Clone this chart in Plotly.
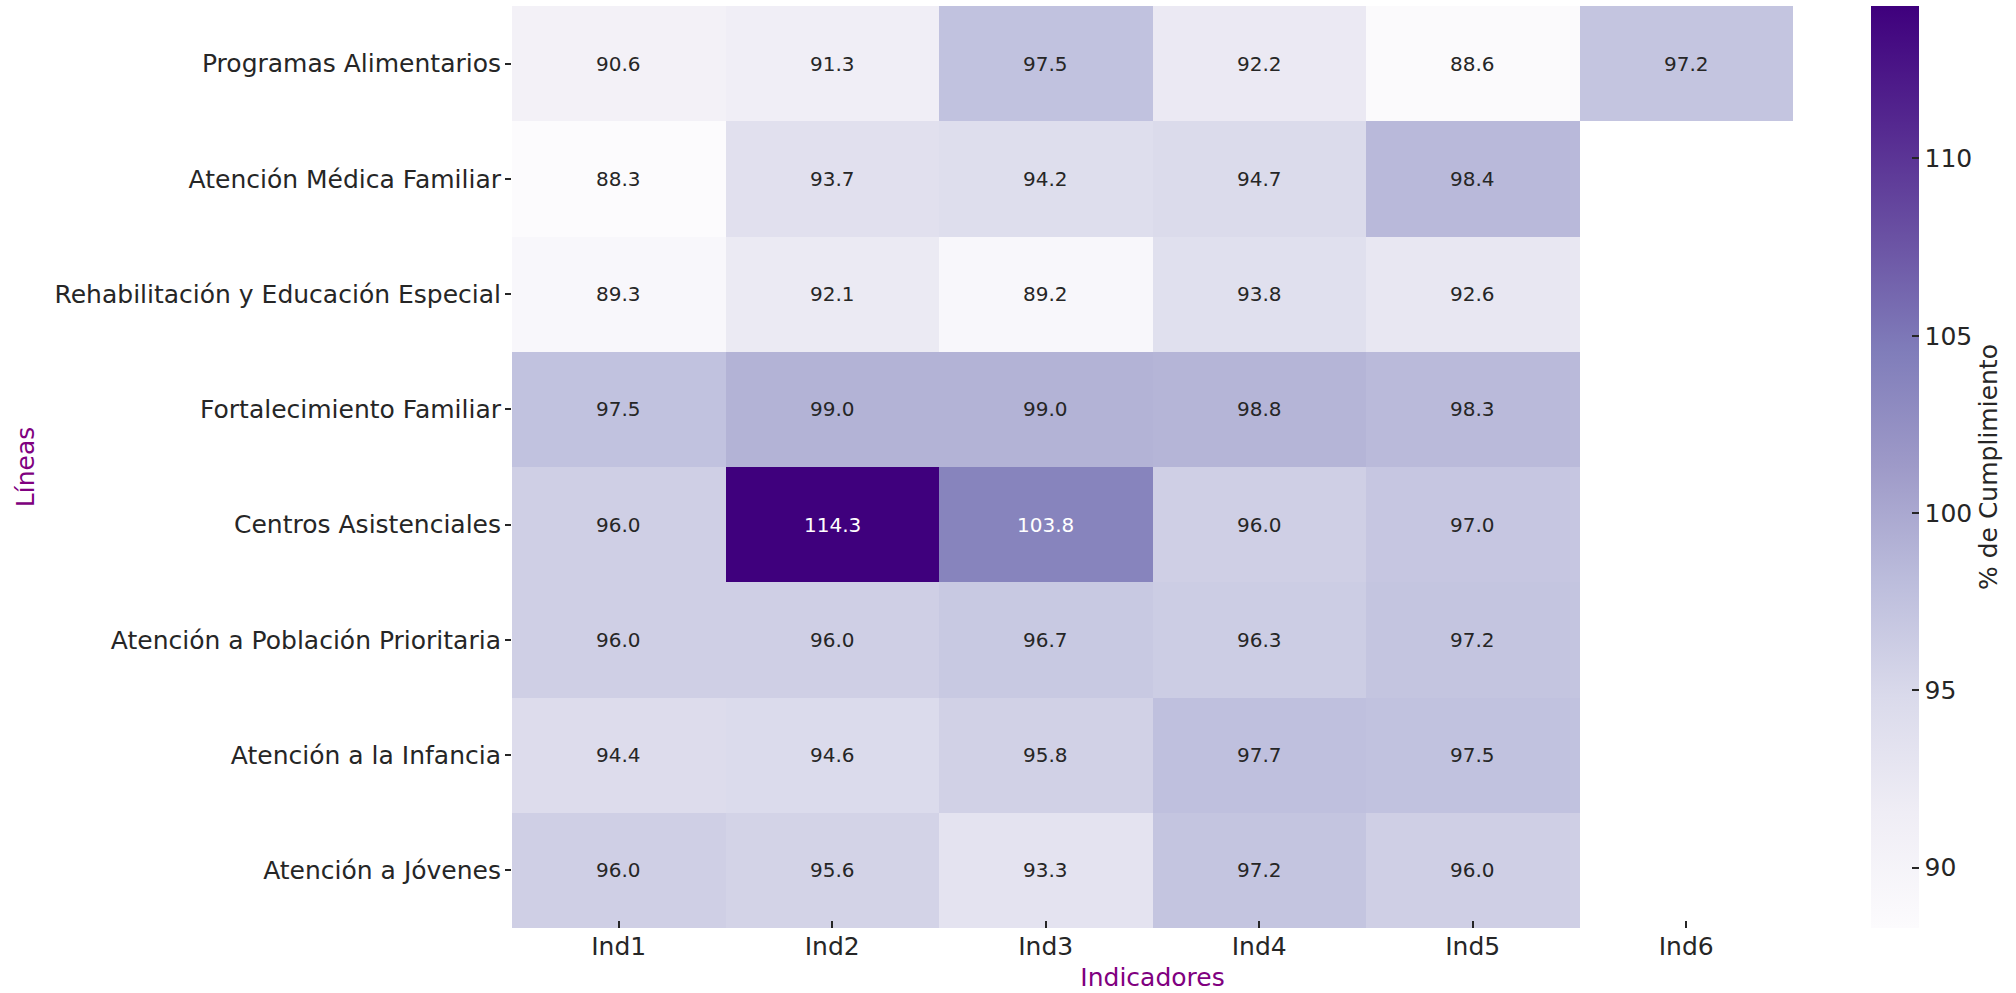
import plotly.graph_objects as go

rows = [
    "Programas Alimentarios",
    "Atención Médica Familiar",
    "Rehabilitación y Educación Especial",
    "Fortalecimiento Familiar",
    "Centros Asistenciales",
    "Atención a Población Prioritaria",
    "Atención a la Infancia",
    "Atención a Jóvenes",
]
indicators = ["Ind1", "Ind2", "Ind3", "Ind4", "Ind5", "Ind6"]

programas_alimentarios = [90.6, 91.3, 97.5, 92.2, 88.6, 97.2]
atencion_medica_familiar = [88.3, 93.7, 94.2, 94.7, 98.4, None]
rehabilitacion = [89.3, 92.1, 89.2, 93.8, 92.6, None]
fortalecimiento_familiar = [97.5, 99.0, 99.0, 98.8, 98.3, None]
centros_asistenciales = [96.0, 114.3, 103.8, 96.0, 97.0, None]
poblacion_prioritaria = [96.0, 96.0, 96.7, 96.3, 97.2, None]
atencion_infancia = [94.4, 94.6, 95.8, 97.7, 97.5, None]
atencion_jovenes = [96.0, 95.6, 93.3, 97.2, 96.0, None]

z = [
    programas_alimentarios,
    atencion_medica_familiar,
    rehabilitacion,
    fortalecimiento_familiar,
    centros_asistenciales,
    poblacion_prioritaria,
    atencion_infancia,
    atencion_jovenes,
]

colorbar_ticks = [90, 95, 100, 105, 110]

vals = [v for r in z for v in r if v is not None]
zmin, zmax = min(vals), max(vals)

# Purples colorscale (ColorBrewer)
purples = ["#fcfbfd", "#efedf5", "#dadaeb", "#bcbddc", "#9e9ac8",
           "#807dba", "#6a51a3", "#54278f", "#3f007d"]
cscale = [[i / (len(purples) - 1), c] for i, c in enumerate(purples)]


def hex2rgb(h):
    h = h.lstrip("#")
    return [int(h[i:i + 2], 16) / 255 for i in (0, 2, 4)]


def color_at(v):
    t = (v - zmin) / (zmax - zmin)
    t = max(0, min(1, t))
    pos = t * (len(purples) - 1)
    i = min(int(pos), len(purples) - 2)
    f = pos - i
    a, b = hex2rgb(purples[i]), hex2rgb(purples[i + 1])
    return [a[k] + (b[k] - a[k]) * f for k in range(3)]


def lum(rgb):
    out = []
    for c in rgb:
        out.append(c / 12.92 if c <= 0.03928 else ((c + 0.055) / 1.055) ** 2.4)
    return 0.2126 * out[0] + 0.7152 * out[1] + 0.0722 * out[2]


FONT = "DejaVu Sans"
TXT = "#262626"

fig = go.Figure()
fig.add_trace(go.Heatmap(
    z=z, x=indicators, y=rows,
    colorscale=cscale, zmin=zmin, zmax=zmax,
    xgap=0, ygap=0, hoverongaps=False,
    colorbar=dict(
        x=1.0609, xanchor="left", xref="paper",
        y=0.5, yanchor="middle", len=1.0, lenmode="fraction",
        xpad=0, ypad=0,
        thickness=48, thicknessmode="pixels",
        outlinewidth=0,
        tickmode="array", tickvals=colorbar_ticks,
        ticks="inside", ticklen=7, tickwidth=1.5, tickcolor=TXT,
        ticklabelposition="outside",
        tickfont=dict(family=FONT, size=25, color=TXT),
        title=dict(text="% de Cumplimiento", side="right",
                   font=dict(family=FONT, size=25, color=TXT)),
    ),
))

annotations = []
for ri, r in enumerate(z):
    for ci, v in enumerate(r):
        if v is None:
            continue
        col = "white" if lum(color_at(v)) <= 0.408 else TXT
        annotations.append(dict(
            x=indicators[ci], y=rows[ri], xref="x", yref="y",
            text=f"{v:.1f}", showarrow=False,
            font=dict(family=FONT, size=20, color=col),
        ))

fig.update_layout(
    width=2016, height=993,
    margin=dict(l=512, r=223, t=6, b=65, autoexpand=False),
    paper_bgcolor="white", plot_bgcolor="white",
    font=dict(family=FONT, color=TXT),
    annotations=annotations,
    xaxis=dict(
        title=dict(text="Indicadores", font=dict(family=FONT, size=25, color="#800080"), standoff=8),
        tickfont=dict(family=FONT, size=25, color=TXT),
        ticks="inside", ticklen=7, tickwidth=1.5, tickcolor=TXT,
        showgrid=False, zeroline=False, showline=False,
        automargin=False, ticklabelstandoff=1,
    ),
    yaxis=dict(
        title=dict(text="Líneas", font=dict(family=FONT, size=25, color="#800080"), standoff=12),
        tickfont=dict(family=FONT, size=25, color=TXT),
        ticks="outside", ticklen=6, tickwidth=1.5, tickcolor=TXT,
        showgrid=False, zeroline=False, showline=False,
        autorange="reversed", automargin=False, ticklabelstandoff=-1,
    ),
)

fig.write_html("out.html", config={"displayModeBar": False},
               post_script="document.body.style.margin='0px';")
